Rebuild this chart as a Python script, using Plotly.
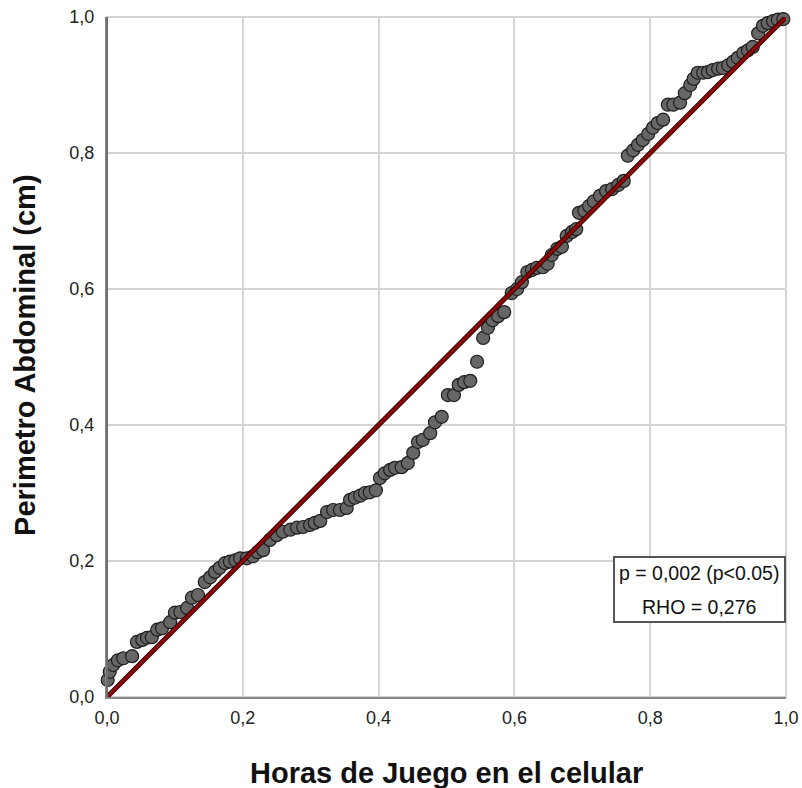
import plotly.graph_objects as go

# Observed cumulative probability (x) vs expected cumulative probability (y)
x_vals = [0.001, 0.004, 0.009, 0.016, 0.024, 0.037, 0.044, 0.052, 0.059, 0.066,
          0.074, 0.081, 0.093, 0.100, 0.108, 0.118, 0.125, 0.134, 0.144, 0.152,
          0.159, 0.166, 0.174, 0.181, 0.189, 0.196, 0.206, 0.215, 0.222, 0.230,
          0.240, 0.250, 0.259, 0.270, 0.280, 0.289, 0.299, 0.306, 0.314, 0.324,
          0.333, 0.343, 0.353, 0.358, 0.365, 0.373, 0.380, 0.387, 0.396, 0.402,
          0.409, 0.417, 0.424, 0.434, 0.443, 0.451, 0.458, 0.465, 0.476, 0.483,
          0.493, 0.502, 0.511, 0.518, 0.526, 0.535, 0.545, 0.554, 0.561, 0.568,
          0.576, 0.585, 0.596, 0.604, 0.611, 0.619, 0.626, 0.633, 0.642, 0.649,
          0.655, 0.663, 0.670, 0.677, 0.685, 0.691, 0.695, 0.703, 0.710, 0.717,
          0.726, 0.735, 0.744, 0.753, 0.761, 0.767, 0.775, 0.782, 0.789, 0.797,
          0.804, 0.811, 0.819, 0.826, 0.834, 0.844, 0.851, 0.859, 0.864, 0.870,
          0.878, 0.885, 0.892, 0.900, 0.907, 0.915, 0.922, 0.929, 0.937, 0.944,
          0.951, 0.959, 0.966, 0.973, 0.981, 0.988, 0.996]
y_vals = [0.025, 0.037, 0.047, 0.054, 0.057, 0.060, 0.081, 0.084, 0.087, 0.088,
          0.099, 0.101, 0.110, 0.124, 0.125, 0.131, 0.146, 0.150, 0.169, 0.176,
          0.184, 0.190, 0.197, 0.199, 0.201, 0.204, 0.204, 0.207, 0.213, 0.216,
          0.231, 0.238, 0.243, 0.246, 0.249, 0.250, 0.253, 0.256, 0.259, 0.272,
          0.275, 0.275, 0.278, 0.290, 0.293, 0.296, 0.300, 0.301, 0.304, 0.322,
          0.329, 0.334, 0.337, 0.338, 0.344, 0.359, 0.375, 0.378, 0.388, 0.404,
          0.412, 0.444, 0.444, 0.459, 0.463, 0.465, 0.493, 0.528, 0.543, 0.554,
          0.560, 0.566, 0.594, 0.600, 0.610, 0.625, 0.628, 0.631, 0.632, 0.637,
          0.650, 0.659, 0.662, 0.678, 0.684, 0.688, 0.712, 0.715, 0.722, 0.729,
          0.737, 0.744, 0.747, 0.753, 0.759, 0.796, 0.804, 0.812, 0.819, 0.828,
          0.837, 0.844, 0.849, 0.871, 0.871, 0.874, 0.888, 0.900, 0.909, 0.918,
          0.918, 0.919, 0.922, 0.924, 0.925, 0.929, 0.934, 0.940, 0.947, 0.951,
          0.956, 0.976, 0.987, 0.991, 0.994, 0.996, 0.997]

ref_x = [0.0, 1.0]
ref_y = [0.0, 1.0]
tick_vals = [0.0, 0.2, 0.4, 0.6, 0.8, 1.0]

x_title = "Horas de Juego en el celular"
y_title = "Perimetro Abdominal (cm)"
stats_line1 = "p = 0,002 (p<0.05)"
stats_line2 = "RHO = 0,276"

FONT = "Liberation Sans, Arial, sans-serif"

fig = go.Figure()

fig.add_trace(go.Scatter(
    x=x_vals, y=y_vals, mode="markers", cliponaxis=False,
    marker=dict(size=13, color="#666666", line=dict(color="#1e1e1e", width=1.2)),
    showlegend=False, hoverinfo="skip",
))

fig.add_trace(go.Scatter(
    x=ref_x, y=ref_y, mode="lines",
    line=dict(color="#3a0000", width=5),
    showlegend=False, hoverinfo="skip",
))
fig.add_trace(go.Scatter(
    x=ref_x, y=ref_y, mode="lines",
    line=dict(color="#8b0a0a", width=3),
    showlegend=False, hoverinfo="skip",
))

axis_common = dict(
    range=[0, 1], tickvals=tick_vals, tickformat=".1f",
    showgrid=True, gridcolor="#d4d4d4", gridwidth=2,
    zeroline=False, showline=True, linecolor="#8a8a8a", linewidth=2,
    ticks="", automargin=False, ticklabeloverflow="allow",
    tickfont=dict(family=FONT, size=18, color="#222222"),
)

fig.update_layout(
    width=802, height=788,
    margin=dict(l=107, r=16, t=17, b=91),
    plot_bgcolor="white", paper_bgcolor="white",
    separators=", ",
    xaxis=dict(**axis_common, ticklabelstandoff=3),
    yaxis=dict(**axis_common, ticklabelstandoff=7),
    font=dict(family=FONT),
    shapes=[
        dict(type="rect", xref="paper", yref="paper", x0=0, y0=0, x1=1, y1=1,
             line=dict(color="#d4d4d4", width=2), layer="below"),
        dict(type="line", xref="paper", yref="paper", x0=0, y0=0, x1=0, y1=1,
             line=dict(color="#6e6e6e", width=2), layer="above"),
        dict(type="rect", xref="paper", yref="paper",
             x0=0.7467, x1=0.9985, y0=0.1103, y1=0.2059,
             fillcolor="white", line=dict(color="#555555", width=2), layer="above"),
    ],
    annotations=[
        dict(text=stats_line1, xref="paper", yref="paper", x=0.8726, y=0.1824,
             xanchor="center", yanchor="middle", showarrow=False,
             font=dict(family=FONT, size=19.5, color="#111111")),
        dict(text=stats_line2, xref="paper", yref="paper", x=0.8726, y=0.1324,
             xanchor="center", yanchor="middle", showarrow=False,
             font=dict(family=FONT, size=19.5, color="#111111")),
        dict(text="<b>" + x_title + "</b>", xref="paper", yref="paper",
             x=0.5007, y=-0.1118, xanchor="center", yanchor="middle", showarrow=False,
             font=dict(family=FONT, size=29, color="#111111")),
        dict(text="<b>" + y_title + "</b>", xref="paper", yref="paper",
             x=-0.1208, y=0.503, xanchor="center", yanchor="middle", showarrow=False,
             textangle=-90, font=dict(family=FONT, size=29, color="#111111")),
    ],
)

# Remove the browser's default 8px page margin so the 802x788 figure fills the window.
fig.write_html(
    "out.html",
    config={"displayModeBar": False},
    post_script="document.body.style.margin='0';document.body.style.overflow='hidden';",
)
